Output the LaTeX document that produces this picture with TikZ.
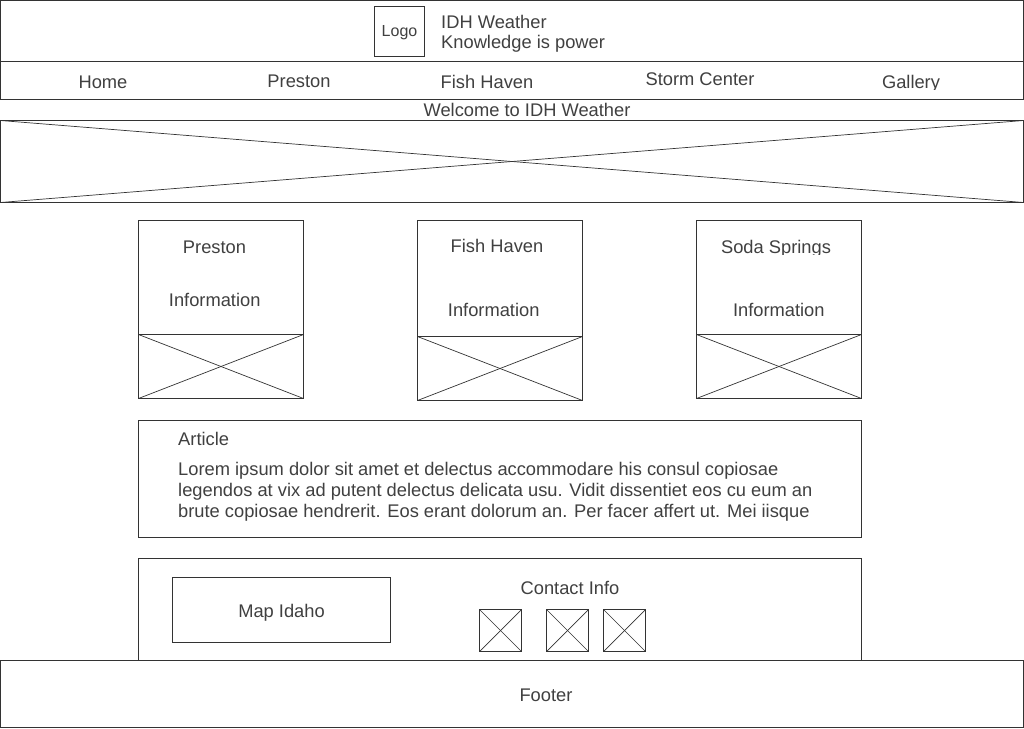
\documentclass[tikz,border=0pt]{standalone}
\usepackage{fontspec}
\setmainfont{Liberation Sans}
\definecolor{linec}{HTML}{333333}
\definecolor{txtc}{HTML}{404040}
\begin{document}
\begin{tikzpicture}[x=1pt,y=-1pt,
  box/.style={draw=linec, line width=1pt, inner sep=0pt, outer sep=0pt, anchor=north west},
  lbl/.style={text=txtc, font=\fontsize{18.3}{21}\selectfont, inner sep=0pt, anchor=base},
  lbll/.style={lbl, anchor=base west},
  xl/.style={draw=linec, line width=0.7pt}]
\useasboundingbox[fill=white] (0,0) rectangle (1024,728);

% header and navigation
\node[box, minimum width=1023pt, minimum height=61pt] (header) at (0.5,0.5) {};
\node[box, minimum width=1023pt, minimum height=38pt] (nav) at (0.5,61.5) {};
\node[box, minimum width=50pt, minimum height=50pt] (logo) at (374.5,6.5) {};
\node[lbl, font=\fontsize{16}{19}\selectfont, anchor=center] (logotxt) at ([yshift=-1pt]logo.center) {Logo};
\node[lbll] (title) at (441,28) {IDH Weather};
\node[lbll] (motto) at (441,48.5) {Knowledge is power};

\node[lbl] (navhome) at (103,88) {Home};
\node[lbl] (navpreston) at (299,87) {Preston};
\node[lbl] (navfish) at (487,88) {Fish Haven};
\node[lbl] (navstorm) at (700,85.5) {Storm Center};
\begin{scope}
  \clip (850,62) rectangle (975,89);
  \node[lbl] (navgallery) at (911,88) {Gallery};
\end{scope}

\node[lbl] (welcome) at (527,116.5) {Welcome to IDH Weather};

% banner
\node[box, minimum width=1023pt, minimum height=82pt] (banner) at (0.5,120.5) {};
\draw[xl] (banner.north west) -- (banner.south east);
\draw[xl] (banner.south west) -- (banner.north east);

% cards
\node[box, minimum width=165pt, minimum height=178pt] (card1) at (138.5,220.5) {};
\node[box, minimum width=165pt, minimum height=64pt] (img1) at (138.5,334.5) {};
\draw[xl] (img1.north west) -- (img1.south east);
\draw[xl] (img1.south west) -- (img1.north east);
\node[lbl] (c1t) at (214.5,253.5) {Preston};
\node[lbl] (c1i) at (214.7,306.3) {Information};

\node[box, minimum width=165pt, minimum height=180pt] (card2) at (417.5,220.5) {};
\node[box, minimum width=165pt, minimum height=64pt] (img2) at (417.5,336.5) {};
\draw[xl] (img2.north west) -- (img2.south east);
\draw[xl] (img2.south west) -- (img2.north east);
\node[lbl] (c2t) at (497,252.5) {Fish Haven};
\node[lbl] (c2i) at (493.7,316.3) {Information};

\node[box, minimum width=165pt, minimum height=178pt] (card3) at (696.5,220.5) {};
\node[box, minimum width=165pt, minimum height=64pt] (img3) at (696.5,334.5) {};
\draw[xl] (img3.north west) -- (img3.south east);
\draw[xl] (img3.south west) -- (img3.north east);
\begin{scope}
  \clip (700,222) rectangle (858,254.5);
  \node[lbl] (c3t) at (776,253) {Soda Springs};
\end{scope}
\node[lbl] (c3i) at (778.8,316.3) {Information};

% article
\node[box, minimum width=723pt, minimum height=117pt] (article) at (138.5,420.5) {};
\node[lbll] (arttitle) at (178,445.3) {Article};
\node[lbll] (lorem1) at (178,475.3) {Lorem ipsum dolor sit amet et delectus accommodare his consul copiosae};
\node[lbll] (lorem2) at (178,496.3) {legendos at vix ad putent delectus delicata usu. Vidit dissentiet eos cu eum an};
\node[lbll] (lorem3) at (178,517.3) {brute copiosae hendrerit. Eos erant dolorum an. Per facer affert ut. Mei iisque};

% map / contact
\node[box, minimum width=723pt, minimum height=102pt] (bottom) at (138.5,558.5) {};
\node[box, minimum width=218pt, minimum height=65pt] (map) at (172.5,577.5) {};
\node[lbl] (maptxt) at (281.5,617) {Map Idaho};
\node[lbl] (contact) at (570,594.3) {Contact Info};
\foreach \i/\x in {1/479.5, 2/546.5, 3/603.5} {
  \node[box, minimum width=42pt, minimum height=42pt] (icon\i) at (\x,609.5) {};
  \draw[xl] (icon\i.north west) -- (icon\i.south east);
  \draw[xl] (icon\i.south west) -- (icon\i.north east);
}

% footer
\node[box, fill=white, minimum width=1023pt, minimum height=67pt] (footer) at (0.5,660.5) {};
\node[lbl] (footertxt) at (546,701) {Footer};
\end{tikzpicture}
\end{document}
